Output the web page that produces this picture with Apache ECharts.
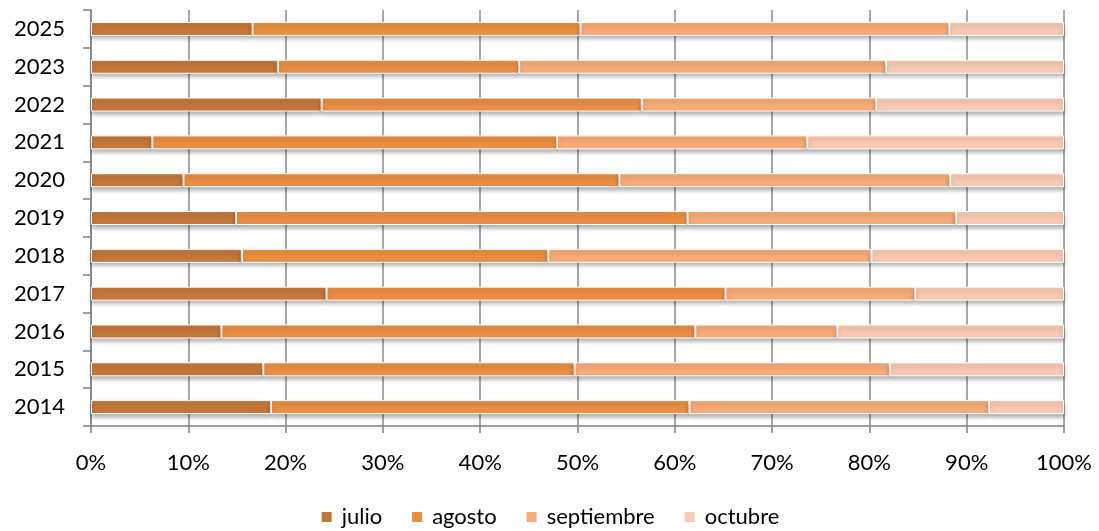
<!DOCTYPE html>
<html>
<head>
<meta charset="utf-8">
<script src="https://cdn.jsdelivr.net/npm/echarts@6/dist/echarts.min.js"></script>
<style>
html, body { margin: 0; padding: 0; background: #fff; }
#chart { width: 1099px; height: 531px; }
</style>
</head>
<body>
<div id="chart"></div>
<script>
// años, de abajo hacia arriba
var years = ['2014', '2015', '2016', '2017', '2018', '2019', '2020', '2021', '2022', '2023', '2025'];
// porcentaje de cada mes por año
var julio      = [18.5, 17.7, 13.4, 24.2, 15.5, 14.9,  9.5,  6.3, 23.7, 19.2, 16.6];
var agosto     = [43.0, 32.0, 48.7, 41.0, 31.5, 46.4, 44.8, 41.6, 32.9, 24.8, 33.7];
var septiembre = [30.8, 32.4, 14.6, 19.5, 33.2, 27.6, 34.0, 25.7, 24.1, 37.7, 37.9];
var octubre    = [ 7.7, 17.9, 23.3, 15.3, 19.8, 11.1, 11.7, 26.4, 19.3, 18.3, 11.8];
var xTicks = [0, 10, 20, 30, 40, 50, 60, 70, 80, 90, 100];

var colores = ['#c5773a', '#e98e43', '#f7ab78', '#f9cab3'];

function serie(nombre, datos, color) {
    return {
        name: nombre,
        type: 'bar',
        stack: 'total',
        barWidth: 14,
        data: datos,
        itemStyle: {
            color: color,
            borderColor: '#fff',
            borderWidth: 1,
            shadowColor: 'rgba(0,0,0,0.3)',
            shadowBlur: 4,
            shadowOffsetY: 3
        }
    };
}

var myChart = echarts.init(document.getElementById('chart'));
var option = {
    animation: false,
    color: colores,
    grid: {
        left: 91,
        right: 35,
        top: 10,
        bottom: 105
    },
    legend: {
        bottom: -2,
        left: 'center',
        itemWidth: 12,
        itemHeight: 12,
        itemGap: 28,
        icon: 'rect',
        textStyle: {
            fontFamily: 'Lato',
            fontSize: 22,
            color: '#000',
            padding: [0, 0, 0, 4]
        }
    },
    xAxis: {
        type: 'value',
        min: 0,
        max: 100,
        interval: 10,
        axisLine: { show: true, lineStyle: { color: '#808080', width: 1.5 } },
        axisTick: { show: true, length: 7, lineStyle: { color: '#808080', width: 1.5 } },
        axisLabel: {
            margin: 26,
            fontFamily: 'Lato',
            fontSize: 22,
            color: '#000',
            formatter: function (v) {
                return xTicks.indexOf(v) >= 0 ? v + '%' : '';
            }
        },
        splitLine: { show: true, lineStyle: { color: '#8a8a8a', width: 1.5 } }
    },
    yAxis: {
        type: 'category',
        data: years,
        axisLine: { show: true, lineStyle: { color: '#808080', width: 1.5 } },
        axisTick: { show: true, length: 8, lineStyle: { color: '#808080', width: 1.5 } },
        axisLabel: {
            margin: 26,
            fontFamily: 'Lato',
            fontSize: 22,
            color: '#000'
        }
    },
    series: [
        serie('julio', julio, colores[0]),
        serie('agosto', agosto, colores[1]),
        serie('septiembre', septiembre, colores[2]),
        serie('octubre', octubre, colores[3])
    ]
};

option && myChart.setOption(option);
</script>
</body>
</html>
